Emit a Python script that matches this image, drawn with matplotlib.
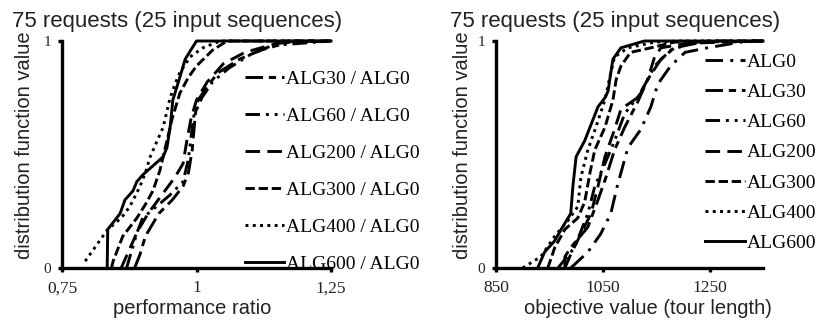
import matplotlib.pyplot as plt

# ---- data ----
# left panel: performance ratio (ALGx / ALG0)
ratio_labels = ['ALG30 / ALG0', 'ALG60 / ALG0', 'ALG200 / ALG0',
                'ALG300 / ALG0', 'ALG400 / ALG0', 'ALG600 / ALG0']
r30_x = [0.885, 0.895, 0.905, 0.930, 0.955, 0.975, 0.985, 0.992, 0.995, 0.998, 1.003, 1.02, 1.04, 1.08, 1.12, 1.18, 1.25]
r30_y = [0.00, 0.06, 0.14, 0.24, 0.30, 0.36, 0.42, 0.52, 0.60, 0.68, 0.74, 0.80, 0.86, 0.92, 0.96, 1.00, 1.00]
r60_x = [0.870, 0.880, 0.890, 0.900, 0.925, 0.950, 0.975, 0.985, 0.990, 0.995, 1.01, 1.03, 1.06, 1.10, 1.14, 1.25]
r60_y = [0.00, 0.08, 0.16, 0.22, 0.27, 0.32, 0.38, 0.48, 0.58, 0.67, 0.75, 0.82, 0.88, 0.94, 0.98, 1.00]
r200_x = [0.860, 0.875, 0.890, 0.910, 0.935, 0.960, 0.975, 0.982, 0.990, 1.000, 1.02, 1.05, 1.09, 1.15, 1.25]
r200_y = [0.00, 0.08, 0.16, 0.24, 0.32, 0.40, 0.46, 0.56, 0.66, 0.74, 0.82, 0.90, 0.95, 0.99, 1.00]
r300_x = [0.842, 0.845, 0.863, 0.889, 0.905, 0.919, 0.932, 0.945, 0.955, 0.969, 0.985, 1.000, 1.030, 1.057, 1.25]
r300_y = [0.00, 0.03, 0.14, 0.22, 0.28, 0.34, 0.43, 0.56, 0.66, 0.77, 0.84, 0.89, 0.96, 1.00, 1.00]
r400_x = [0.793, 0.835, 0.860, 0.876, 0.895, 0.905, 0.914, 0.925, 0.938, 0.951, 0.960, 0.969, 0.988, 1.012, 1.044, 1.25]
r400_y = [0.03, 0.17, 0.22, 0.27, 0.36, 0.42, 0.49, 0.55, 0.62, 0.75, 0.81, 0.86, 0.93, 0.97, 1.00, 1.00]
r600_x = [0.834, 0.835, 0.858, 0.867, 0.882, 0.889, 0.900, 0.919, 0.938, 0.945, 0.951, 0.956, 0.969, 0.979, 0.992, 1.000, 1.25]
r600_y = [0.00, 0.17, 0.24, 0.30, 0.34, 0.38, 0.41, 0.45, 0.49, 0.53, 0.62, 0.74, 0.84, 0.92, 0.97, 1.00, 1.00]

# right panel: objective value (tour length)
obj_labels = ['ALG0', 'ALG30', 'ALG60', 'ALG200', 'ALG300', 'ALG400', 'ALG600']
o0_x = [990, 1022, 1046, 1065, 1077, 1097, 1121, 1140, 1153, 1177, 1204, 1246, 1308, 1350]
o0_y = [0.00, 0.07, 0.15, 0.24, 0.36, 0.53, 0.61, 0.71, 0.81, 0.89, 0.95, 0.97, 0.995, 1.00]
o30_x = [979, 979, 990, 1022, 1041, 1056, 1072, 1091, 1115, 1134, 1159, 1184, 1246, 1350]
o30_y = [0.00, 0.05, 0.09, 0.18, 0.30, 0.40, 0.52, 0.62, 0.73, 0.83, 0.92, 0.97, 1.00, 1.00]
o60_x = [966, 997, 1022, 1035, 1054, 1072, 1091, 1121, 1147, 1177, 1222, 1350]
o60_y = [0.00, 0.09, 0.24, 0.36, 0.46, 0.56, 0.68, 0.77, 0.89, 0.96, 0.995, 1.00]
o200_x = [979, 990, 1009, 1028, 1041, 1054, 1072, 1084, 1115, 1134, 1147, 1159, 1209, 1350]
o200_y = [0.00, 0.06, 0.15, 0.24, 0.36, 0.49, 0.61, 0.70, 0.75, 0.83, 0.93, 0.97, 0.99, 1.00]
o300_x = [947, 960, 979, 1003, 1016, 1026, 1035, 1054, 1069, 1075, 1084, 1102, 1140, 1184, 1350]
o300_y = [0.00, 0.09, 0.17, 0.22, 0.29, 0.42, 0.52, 0.62, 0.74, 0.83, 0.89, 0.95, 0.97, 0.995, 1.00]
o400_x = [900, 934, 960, 985, 1003, 1009, 1022, 1037, 1054, 1063, 1072, 1097, 1147, 1196, 1350]
o400_y = [0.00, 0.05, 0.14, 0.21, 0.27, 0.40, 0.52, 0.62, 0.74, 0.84, 0.93, 0.97, 0.995, 1.00, 1.00]
o600_x = [928, 941, 960, 972, 990, 994, 1000, 1016, 1026, 1041, 1054, 1060, 1063, 1069, 1084, 1128, 1350]
o600_y = [0.00, 0.07, 0.12, 0.17, 0.24, 0.36, 0.49, 0.56, 0.62, 0.71, 0.75, 0.78, 0.83, 0.92, 0.97, 1.00, 1.00]

title = '75 requests (25 input sequences)'

# line styles (dash patterns in units of line width)
dash_a0 = (0, (6, 2.5, 1, 2.5))
dash_a30 = (0, (6, 2, 2.5, 2))
dash_a60 = (0, (5, 2, 1, 2, 1, 2))
dash_a200 = (0, (5, 2.5))
dash_a300 = (0, (3.2, 1.3))
dash_a400 = (0, (1, 1.5))
solid = '-'

lw = 2.1
sans = 'Liberation Sans'
serif = 'Liberation Serif'
txt = '#222222'


def style_axes(ax, xlim, xticks, xticklabels):
    ax.set_xlim(*xlim)
    ax.set_ylim(0, 1)
    for s in ['top', 'right']:
        ax.spines[s].set_visible(False)
    for s in ['left', 'bottom']:
        ax.spines[s].set_linewidth(2.4)
    ax.set_xticks(xticks)
    ax.set_xticklabels(xticklabels, fontfamily=serif, fontsize=12.5, color=txt)
    ax.set_yticks([0, 1])
    ax.set_yticklabels(['0', '1'], fontfamily=serif, fontsize=11, color=txt)
    ax.tick_params(axis='x', length=3, width=2.4, pad=6)
    ax.tick_params(axis='y', length=3, width=2.4, pad=5)


fig = plt.figure(figsize=(8.18, 3.22), dpi=100)

# left panel
ax1 = fig.add_axes([62 / 818, 1 - 268 / 322, 269 / 818, 227 / 322])
left_series = [(r30_x, r30_y, dash_a30), (r60_x, r60_y, dash_a60), (r200_x, r200_y, dash_a200),
               (r300_x, r300_y, dash_a300), (r400_x, r400_y, dash_a400), (r600_x, r600_y, solid)]
for (x, y, ls), lab in zip(left_series, ratio_labels):
    ax1.plot(x, y, color='black', lw=lw, linestyle=ls, label=lab, clip_on=False)
style_axes(ax1, (0.75, 1.25), [0.75, 1.0, 1.25], ['0,75', '1', '1,25'])
ax1.legend(loc='upper left', bbox_to_anchor=(245 / 818, 1 - 70 / 322), bbox_transform=fig.transFigure,
           frameon=False, prop={'family': serif, 'size': 14}, borderpad=0, borderaxespad=0,
           handlelength=2.0, handletextpad=0.1, labelspacing=1.0)

# right panel
ax2 = fig.add_axes([496 / 818, 1 - 268 / 322, 267 / 818, 227 / 322])
right_series = [(o0_x, o0_y, dash_a0), (o30_x, o30_y, dash_a30), (o60_x, o60_y, dash_a60),
                (o200_x, o200_y, dash_a200), (o300_x, o300_y, dash_a300),
                (o400_x, o400_y, dash_a400), (o600_x, o600_y, solid)]
for (x, y, ls), lab in zip(right_series, obj_labels):
    ax2.plot(x, y, color='black', lw=lw, linestyle=ls, label=lab, clip_on=False)
style_axes(ax2, (850, 1350), [850, 1050, 1250], ['850', '1050', '1250'])
ax2.legend(loc='upper left', bbox_to_anchor=(705 / 818, 1 - 53 / 322), bbox_transform=fig.transFigure,
           frameon=False, prop={'family': serif, 'size': 14}, borderpad=0, borderaxespad=0,
           handlelength=2.05, handletextpad=0.1, labelspacing=0.65)

# titles and axis labels as figure text
fig.text(12 / 818, 1 - 21 / 322, title, fontfamily=sans, fontsize=16, color=txt, va='center', ha='left')
fig.text(450 / 818, 1 - 21 / 322, title, fontfamily=sans, fontsize=16, color=txt, va='center', ha='left')
fig.text(25 / 818, 1 - 145 / 322, 'distribution function value', fontfamily=sans, fontsize=14.5,
         color=txt, rotation=90, va='center', ha='center')
fig.text(463 / 818, 1 - 145 / 322, 'distribution function value', fontfamily=sans, fontsize=14.5,
         color=txt, rotation=90, va='center', ha='center')
fig.text(192 / 818, 1 - 309 / 322, 'performance ratio', fontfamily=sans, fontsize=14.5,
         color=txt, va='center', ha='center')
fig.text(648 / 818, 1 - 309 / 322, 'objective value (tour length)', fontfamily=sans, fontsize=14.5,
         color=txt, va='center', ha='center')

fig.savefig('out.png', dpi=100)
